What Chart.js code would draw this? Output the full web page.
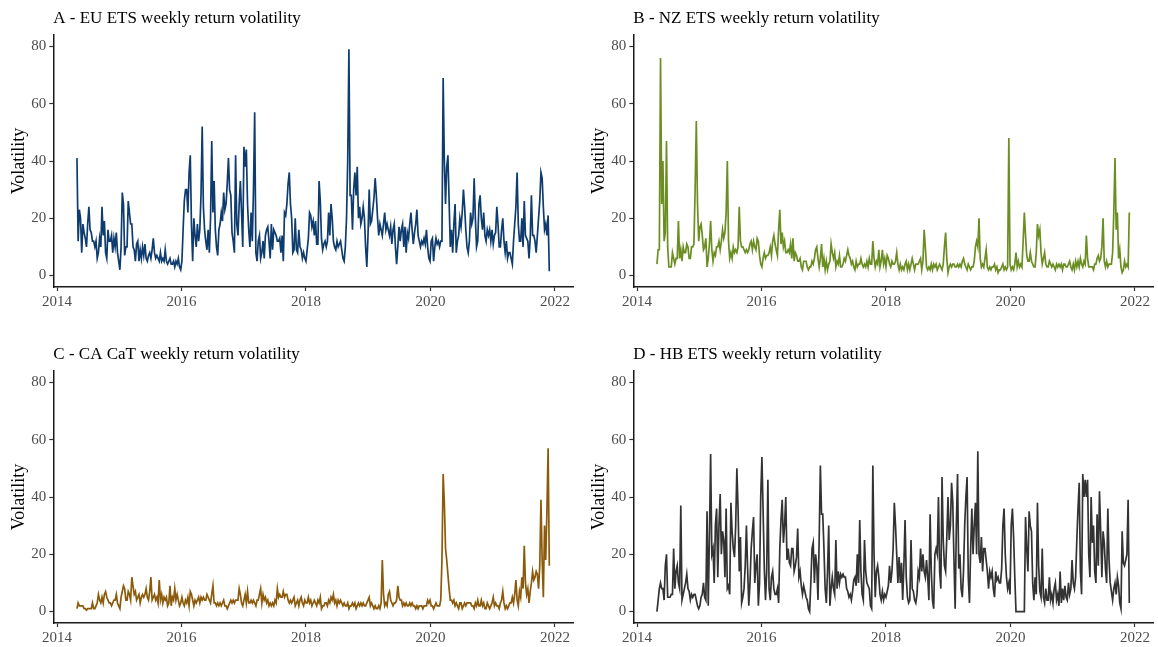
<!DOCTYPE html>
<html>
<head>
<meta charset="utf-8">
<script src="https://cdn.jsdelivr.net/npm/chart.js@4.4.1/dist/chart.umd.min.js"></script>
<style>
  html, body { margin: 0; padding: 0; background: #ffffff; }
  body { width: 1158px; height: 647px; position: relative; overflow: hidden; }
  .panel { position: absolute; width: 580px; height: 311px; }
</style>
</head>
<body>
<div class="panel" style="left:0;top:0"><canvas id="panelA" width="580" height="311"></canvas></div>
<div class="panel" style="left:580px;top:0"><canvas id="panelB" width="580" height="311"></canvas></div>
<div class="panel" style="left:0;top:336px"><canvas id="panelC" width="580" height="311"></canvas></div>
<div class="panel" style="left:580px;top:336px"><canvas id="panelD" width="580" height="311"></canvas></div>
<script>
// Weekly observations, first week at decimal year 2014.32
const firstWeek = 2014.32;
const weekLength = 7 / 365.25;

const yearTicks = [2014, 2016, 2018, 2020, 2022];
const volatilityTicks = [0, 20, 40, 60, 80];

const panelTitles = [
  'A - EU ETS weekly return volatility',
  'B - NZ ETS weekly return volatility',
  'C - CA CaT weekly return volatility',
  'D - HB ETS weekly return volatility'
];

// EU ETS weekly return volatility
const euEts = [
  41,12,23,20,8,18,15,13,10,18, 24,16,15,12,12,10,12,6,8,13,
  10,24,14,19,8,6,16,12,12,14, 8,13,10,15,8,5,2,10,29,25,
  7,10,10,26,22,18,18,10,9,5, 11,12,5,9,6,10,7,11,6,5,
  7,8,6,9,13,8,6,7,6,5, 8,5,6,5,9,5,4,5,6,4,
  4,5,3,5,4,6,3,2,5,16, 26,30,30,22,36,42,18,5,20,14,
  10,18,12,16,28,52,24,16,12,9, 16,8,20,47,22,33,16,10,7,16,
  18,22,19,29,23,25,32,41,30,28, 15,12,8,42,18,14,25,33,22,10,
  45,38,44,25,16,10,22,12,30,57, 8,5,12,14,6,8,12,6,14,16,
  17,12,6,18,9,16,15,14,12,12, 13,8,14,5,22,21,25,32,36,25,
  20,8,9,20,9,8,16,10,9,6, 8,6,5,9,13,22,21,17,19,14,
  19,11,11,33,26,13,9,11,12,10, 12,22,14,25,20,12,10,9,12,10,
  11,12,9,6,5,10,20,40,79,28, 28,16,30,36,28,38,20,24,18,20,
  24,20,10,3,14,30,18,19,23,27, 34,28,20,14,18,16,14,18,22,16,
  18,16,14,17,11,16,18,10,4,10, 17,12,16,18,10,17,8,15,13,18,
  22,16,11,15,18,23,14,12,10,12, 11,13,11,16,10,6,5,12,13,5,
  10,13,11,12,10,12,12,69,40,25, 38,42,26,10,16,8,18,25,8,12,
  14,20,17,22,30,24,16,10,8,12, 22,18,20,34,20,10,12,25,28,20,
  16,22,14,12,16,14,16,12,16,11, 14,15,24,18,10,10,16,20,12,8,
  12,6,8,8,6,4,12,18,24,36, 18,12,12,20,10,26,14,13,12,6,
  13,28,14,14,12,8,14,20,26,36, 34,24,16,18,14,21,1.5
];

// NZ ETS weekly return volatility
const nzEts = [
  4,9,9,76,25,40,12,15,47,10, 3,3,3,8,6,4,6,6,19,6,
  9,5,10,8,8,11,10,6,6,10, 10,11,30,54,25,12,17,18,14,9,
  10,13,3,6,11,19,9,5,8,7, 10,10,12,9,12,16,13,15,22,40,
  12,6,8,6,10,8,9,8,10,24, 12,10,10,9,8,9,8,9,11,12,
  9,12,10,9,13,12,7,4,3,6, 8,6,7,7,8,10,7,12,14,11,
  9,7,16,23,11,15,10,12,8,8, 9,8,11,6,13,5,8,7,5,5,
  6,3,2,5,5,5,3,2,3,3, 5,4,6,9,10,6,3,6,11,3,
  6,2,5,2,4,5,11,8,6,8, 3,5,4,7,3,3,4,6,5,7,
  9,7,6,4,5,3,2,5,3,4, 4,6,4,3,4,3,5,3,6,4,
  4,12,6,3,5,4,9,3,5,9, 4,6,3,7,6,4,3,5,4,4,
  5,8,4,2,4,2,3,2,4,5, 2,4,2,4,6,4,2,4,4,4,
  5,6,2,5,16,10,3,2,3,2, 4,2,4,3,4,2,3,4,3,2,
  4,10,15,6,1,3,4,3,4,4, 3,3,4,3,4,3,5,6,4,3,
  2,4,3,2,3,3,5,10,12,10, 20,6,3,4,3,6,9,3,2,3,
  2,3,3,4,2,3,1,2,2,3, 4,2,3,2,3,48,4,2,3,2,
  4,8,3,5,3,4,3,12,22,14, 7,5,5,8,5,4,3,3,8,18,
  14,16,8,4,6,8,4,3,3,5, 4,3,4,3,2,4,3,4,3,4,
  2,4,4,3,3,4,5,3,2,4, 2,5,3,5,3,6,4,3,5,4,
  14,6,3,3,3,3,2,4,4,6, 7,5,6,10,20,5,3,5,3,4,
  4,4,8,22,41,16,22,6,9,3, 1,2,5,3,4,3,22
];

// California cap-and-trade weekly return volatility
const caCat = [
  1,3,2,2,2,2,1,1,0.5,1, 1,1,1,3,1,1,2,3,6,4,
  3,5,3,6,7,5,4,3,3,2, 3,4,4,6,3,2,1,5,7,9,
  8,4,4,7,6,4,12,9,6,7, 4,5,6,3,5,6,5,6,8,5,
  4,7,12,4,5,6,4,5,3,11, 4,6,3,5,4,5,2,3,9,2,
  5,4,8,4,6,4,2,3,5,3, 2,4,3,5,2,7,6,4,2,4,
  3,4,5,3,5,4,5,4,4,6, 5,4,3,6,9,3,3,2,3,2,
  3,2,3,4,2,2,1,2,3,4, 3,4,3,4,4,4,8,6,3,2,
  4,6,3,7,3,3,4,3,4,3, 2,4,4,6,8,3,6,4,5,3,
  4,2,3,2,3,2,4,3,8,5, 6,5,5,7,5,6,6,4,3,4,
  3,4,5,2,3,4,2,4,5,3, 2,4,3,3,5,3,4,2,3,4,
  3,2,4,3,5,1,2,2,3,3, 2,4,3,5,4,6,3,4,2,4,
  3,4,3,2,3,2,2,3,1,2, 2,3,2,3,1,2,3,2,3,2,
  3,2,2,3,4,5,2,3,2,1, 2,1,1,2,1,3,18,6,2,3,
  2,6,7,4,3,2,3,3,4,9, 5,4,4,2,3,2,3,2,2,3,
  2,3,2,2,1,2,1,2,2,2, 1,2,2,2,4,3,4,2,2,1,
  2,3,2,2,2,4,18,48,38,22, 18,13,8,4,4,3,4,2,3,2,
  1,3,3,1,2,3,2,3,3,3, 3,2,2,1,3,2,4,2,2,4,
  2,3,1,1,3,2,1,2,3,5, 2,3,2,2,1,3,4,7,3,1,
  2,1,2,3,3,5,3,6,11,4, 2,7,5,12,8,23,10,6,8,3,
  7,10,14,11,12,14,13,8,16,39, 18,5,30,18,35,57,16
];

// Hubei ETS weekly return volatility
const hbEts = [
  0,4,8,10,8,8,4,16,20,5, 5,5,6,6,22,8,14,16,10,8,
  37,4,6,8,10,13,8,7,4,6, 5,6,6,4,2,1,2,5,6,10,
  5,4,35,2,26,55,20,22,10,30, 36,12,30,41,20,28,25,12,36,8,
  9,6,38,28,22,19,30,50,36,14, 26,3,5,8,16,30,15,2,10,22,
  28,33,10,16,20,2,10,40,54,35, 15,4,14,46,8,4,12,14,8,6,
  6,8,3,22,32,39,24,30,40,18, 22,17,16,22,22,14,16,19,29,12,
  14,9,6,9,7,5,4,1,0,10, 22,24,10,20,16,4,25,51,34,34,
  22,8,3,14,30,2,8,12,8,6, 25,8,14,10,13,12,13,12,12,8,
  7,5,6,4,7,11,12,9,20,10, 32,14,6,4,25,14,10,9,8,2,
  1,51,20,5,14,16,12,6,4,7, 4,6,5,7,9,16,10,14,22,38,
  30,20,10,19,10,17,4,16,32,12, 5,3,4,25,8,7,4,3,6,14,
  12,22,14,20,14,12,18,12,4,34, 14,4,1,20,22,20,40,14,8,47,
  25,16,14,26,40,25,30,45,38,18, 1,30,48,15,20,8,5,14,30,40,
  47,12,3,22,36,20,30,38,20,56, 20,17,26,14,22,22,18,14,8,14,
  12,14,8,5,14,11,12,10,10,15, 30,36,20,12,8,10,6,30,36,26,
  12,0,0,0,0,0,0,0,0,33, 22,14,35,30,28,10,4,12,6,38,
  16,7,5,22,5,3,8,4,4,12, 4,6,3,8,10,4,6,2,14,3,
  8,4,9,5,4,10,6,8,18,10, 8,12,25,36,45,14,6,48,40,46,
  40,46,20,12,40,24,30,14,10,34, 16,42,28,12,28,24,15,10,36,18,
  10,7,4,8,10,6,12,9,3,1, 28,17,16,18,20,39,3
];

const seriesColors = ['#0f3c6e', '#6b8e23', '#8b5a0b', '#333333'];

const weeks = euEts.map((_, i) => firstWeek + i * weekLength);

Chart.defaults.font.family = '"Liberation Serif", "Times New Roman", serif';

// Draws the panel heading aligned with the left edge of the plotting area
const panelHeading = {
  id: 'panelHeading',
  afterDraw(chart, args, opts) {
    const ctx = chart.ctx;
    ctx.save();
    ctx.font = '17px "Liberation Serif", "Times New Roman", serif';
    ctx.fillStyle = '#000000';
    ctx.textBaseline = 'alphabetic';
    ctx.textAlign = 'left';
    ctx.fillText(opts.text, chart.chartArea.left, 23);
    ctx.restore();
  }
};

const axisGrid = {
  display: true,
  drawOnChartArea: false,
  drawTicks: true,
  tickLength: 4,
  tickColor: '#333333',
  tickWidth: 1.2
};
const axisBorder = { display: true, color: '#1a1a1a', width: 1.5 };
const tickFont = { size: 15 };

function drawPanel(canvasId, title, values, color) {
  new Chart(document.getElementById(canvasId), {
    type: 'line',
    data: {
      datasets: [{
        data: values.map((v, i) => ({ x: weeks[i], y: v })),
        borderColor: color,
        borderWidth: 1.7,
        pointRadius: 0,
        tension: 0,
        fill: false
      }]
    },
    options: {
      responsive: false,
      animation: false,
      events: [],
      layout: { padding: { left: 0, top: 35, right: 7, bottom: 0 } },
      plugins: {
        legend: { display: false },
        tooltip: { enabled: false },
        panelHeading: { text: title }
      },
      scales: {
        x: {
          type: 'linear',
          min: 2013.94,
          max: 2022.29,
          afterBuildTicks: s => { s.ticks = yearTicks.map(v => ({ value: v })); },
          afterFit: s => { s.height = 24; },
          ticks: { color: '#4d4d4d', font: tickFont, padding: 2, maxRotation: 0, callback: v => String(v) },
          grid: axisGrid,
          border: axisBorder
        },
        y: {
          type: 'linear',
          min: -4,
          max: 84,
          afterBuildTicks: s => { s.ticks = volatilityTicks.map(v => ({ value: v })); },
          afterFit: s => { s.width = 53.3; },
          ticks: { color: '#4d4d4d', font: tickFont, padding: 3, callback: v => String(v) },
          grid: axisGrid,
          border: axisBorder,
          title: {
            display: true,
            text: 'Volatility',
            color: '#000000',
            font: { size: 18 },
            padding: { top: 8, bottom: 0 }
          }
        }
      }
    },
    plugins: [panelHeading]
  });
}

drawPanel('panelA', panelTitles[0], euEts, seriesColors[0]);
drawPanel('panelB', panelTitles[1], nzEts, seriesColors[1]);
drawPanel('panelC', panelTitles[2], caCat, seriesColors[2]);
drawPanel('panelD', panelTitles[3], hbEts, seriesColors[3]);
</script>
</body>
</html>
